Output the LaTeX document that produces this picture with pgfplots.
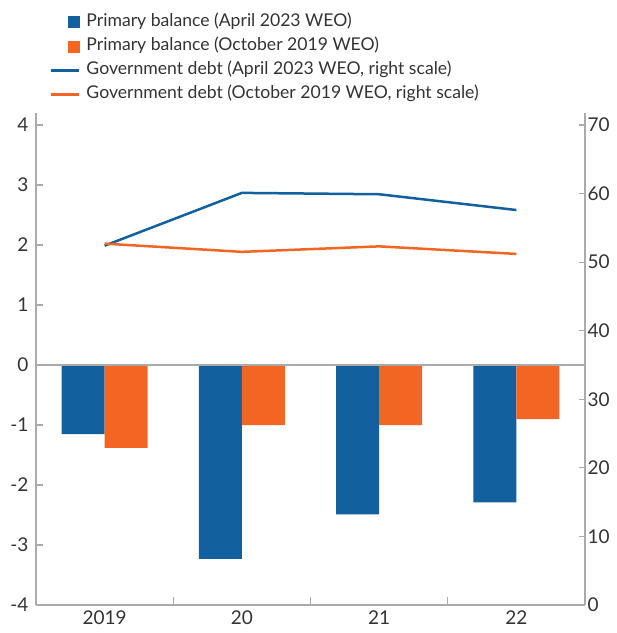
\documentclass[border=0pt]{standalone}
\usepackage{fontspec}
\setmainfont{Lato}
\usepackage{pgfplots}
\pgfplotsset{compat=1.18}
\definecolor{pbblue}{RGB}{19,96,158}
\definecolor{pborange}{RGB}{242,101,34}
\definecolor{axgray}{RGB}{170,170,170}
\definecolor{txt}{RGB}{51,51,51}
\begin{document}
\begin{tikzpicture}
\path[use as bounding box] (-36pt,-28pt) rectangle (581pt,605pt);
\begin{axis}[
  scale only axis, width=549pt, height=492pt,
  xmin=-0.5, xmax=3.5, ymin=-4, ymax=4.2,
  axis x line*=bottom, axis y line*=left,
  axis line style={-, axgray, line width=1.2pt},
  ytick={-4,-3,-2,-1,0,1,2,3,4},
  xtick={0,1,2,3}, xticklabels={2019,20,21,22},
  minor xtick={0.5,1.5,2.5},
  major x tick style={draw=none},
  tick align=inside,
  major tick length=7pt, minor tick length=8pt,
  tick style={axgray, line width=1.2pt},
  tick label style={font=\fontsize{19}{21}\selectfont, text=txt},
  /pgf/number format/assume math mode=true,
  yticklabel style={xshift=-4pt},
  xticklabel style={yshift=-2pt},
  clip=false,
]
\addplot[ybar, bar width=43pt, fill=pbblue, draw=none, bar shift=-21.5pt] coordinates {(0,-1.15) (1,-3.23) (2,-2.49) (3,-2.29)};
\addplot[ybar, bar width=43pt, fill=pborange, draw=none, bar shift=21.5pt] coordinates {(0,-1.38) (1,-1.0) (2,-1.0) (3,-0.9)};
\draw[axgray, line width=1.2pt] (axis cs:-0.5,0) -- (axis cs:3.5,0);
\end{axis}
\begin{axis}[
  scale only axis, width=549pt, height=492pt,
  xmin=-0.5, xmax=3.5, ymin=0, ymax=71.75,
  axis x line=none, axis y line*=right,
  axis line style={-, axgray, line width=1.2pt},
  ytick={0,10,20,30,40,50,60,70},
  tick align=inside,
  major tick length=6pt,
  tick style={axgray, line width=1.2pt},
  tick label style={font=\fontsize{19}{21}\selectfont, text=txt},
  /pgf/number format/assume math mode=true,
  yticklabel style={xshift=-1pt},
  clip=false,
  legend cell align=left,
  legend style={at={(0.0255,1.203)}, anchor=north west, draw=none, fill=none,
    inner sep=0pt, outer sep=0pt, row sep=6.1pt, column sep=5pt,
    font=\fontsize{17.6}{20}\selectfont, text=txt,
    nodes={inner sep=1pt, text height=12.5pt, text depth=3.5pt}},
]
\addlegendimage{legend image code/.code={\fill[pbblue] (17pt,-5.5pt) rectangle (28pt,5.5pt);}}
\addlegendimage{legend image code/.code={\fill[pborange] (17pt,-5.5pt) rectangle (28pt,5.5pt);}}
\addplot[pbblue, line width=2.5pt, legend image code/.code={\draw[pbblue, line width=2.5pt] (0pt,0pt) -- (28pt,0pt);}] coordinates {(0,52.4) (1,60.1) (2,59.9) (3,57.6)};
\addplot[pborange, line width=2.5pt, legend image code/.code={\draw[pborange, line width=2.5pt] (0pt,0pt) -- (28pt,0pt);}] coordinates {(0,52.7) (1,51.5) (2,52.3) (3,51.2)};
\legend{Primary balance (April 2023 WEO), Primary balance (October 2019 WEO), Government debt (April 2023 WEO{,} right scale), Government debt (October 2019 WEO{,} right scale)}
\end{axis}
\end{tikzpicture}
\end{document}
